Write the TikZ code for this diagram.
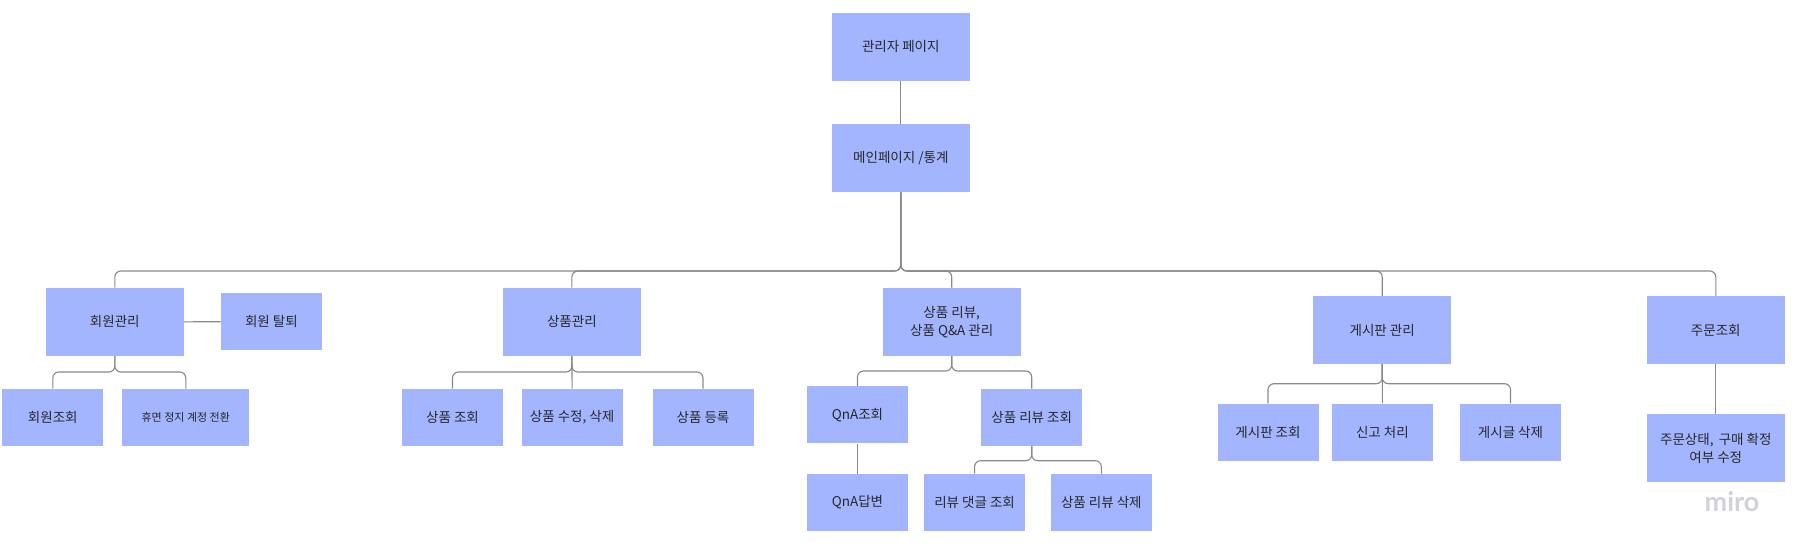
\documentclass[tikz,border=0pt]{standalone}
\usepackage{fontspec}
\usepackage{xcolor}
\usepackage{tikz}
\usetikzlibrary{positioning, calc}
\setmainfont{Noto Sans CJK KR}
\newfontfamily\mirofont{Lato}
\definecolor{boxblue}{RGB}{163,181,254}
\definecolor{linegray}{RGB}{136,136,136}
\definecolor{textgray}{RGB}{40,40,40}
\definecolor{mirogray}{RGB}{208,208,222}

\begin{document}
\begin{tikzpicture}[
    x=1bp, y=-1bp,
    link/.style={draw=linegray, line width=1.1bp, rounded corners=6bp},
    bigbox/.style={rectangle, fill=boxblue, minimum width=138bp, minimum height=68bp, inner sep=2bp, align=center, text=textgray, font=\fontsize{13.5bp}{18bp}\selectfont},
    smallbox/.style={bigbox, minimum width=101bp, minimum height=57bp}
]
    \useasboundingbox (0,0) rectangle (1804,554);
    % --- 1. Top of the tree ---
    \node (admin) [bigbox] at (900.8,46.9) {관리자 페이지};
    \node (main) [bigbox] at (900.8,158.1) {메인페이지 /통계};
    % --- 2. First level menus ---
    \node (member) [bigbox] at (114.8,321.9) {회원관리};
    \node (goods) [bigbox] at (571.9,321.9) {상품관리};
    \node (review) [bigbox] at (951.7,321.9) {상품 리뷰,\\상품 Q\&A 관리};
    \node (board) [bigbox] at (1382.2,330) {게시판 관리};
    \node (order) [bigbox] at (1715.8,330) {주문조회};
    % --- 3. Sub menus ---
    \node (withdraw) [smallbox] at (271.4,321.7) {회원 탈퇴};
    \node (memberview) [smallbox] at (52.8,417.3) {회원조회};
    \node (dormant) [smallbox, minimum width=127bp, font=\fontsize{11bp}{14bp}\selectfont] at (185.8,417.3) {휴면 정지 계정 전환};
    \node (goodsview) [smallbox] at (452.5,417.3) {상품 조회};
    \node (goodsedit) [smallbox] at (572.1,417.3) {상품 수정, 삭제};
    \node (goodsadd) [smallbox] at (703,417.3) {상품 등록};
    \node (qnaview) [smallbox] at (857.5,414.8) {QnA조회};
    \node (reviewview) [smallbox] at (1031.7,417.3) {상품 리뷰 조회};
    \node (qnaanswer) [smallbox] at (857.5,502.4) {QnA답변};
    \node (comment) [smallbox] at (974.6,502.4) {리뷰 댓글 조회};
    \node (reviewdel) [smallbox] at (1101.3,502.4) {상품 리뷰 삭제};
    \node (boardview) [smallbox] at (1268,432) {게시판 조회};
    \node (report) [smallbox] at (1382.4,432) {신고 처리};
    \node (postdel) [smallbox] at (1510.5,432) {게시글 삭제};
    \node (orderedit) [bigbox] at (1715.8,448.2) {주문상태,\, 구매 확정\\여부 수정};
    % watermark
    \node (miro) [text=mirogray, font=\mirofont\bfseries\fontsize{27bp}{27bp}\selectfont] at (1732,502) {miro};
    % --- 4. Connectors ---
    \draw[link] (admin) -- (main);
    \draw[link] (main.south) -- (main.south |- 0,271) -| (member.north);
    \draw[link] (main.south) -- (main.south |- 0,271) -| (goods.north);
    \draw[link] (main.south) -- (main.south |- 0,271) -| (review.north);
    \draw[link] (main.south) -- (main.south |- 0,271) -| (board.north);
    \draw[link] (main.south) -- (main.south |- 0,271) -| (order.north);
    % members
    \draw[link] (member) -- (withdraw);
    \draw[link] (member.south) -- (member.south |- 0,372) -| (memberview.north);
    \draw[link] (member.south) -- (member.south |- 0,372) -| (dormant.north);
    % goods
    \draw[link] (goods.south) -- (goods.south |- 0,372) -| (goodsview.north);
    \draw[link] (goods.south) -- (goodsedit.north);
    \draw[link] (goods.south) -- (goods.south |- 0,372) -| (goodsadd.north);
    % reviews and Q&A
    \draw[link] (review.south) -- (review.south |- 0,371) -| (qnaview.north);
    \draw[link] (review.south) -- (review.south |- 0,371) -| (reviewview.north);
    \draw[link] (qnaview) -- (qnaanswer);
    \draw[link] (reviewview.south) -- (reviewview.south |- 0,460.7) -| (comment.north);
    \draw[link] (reviewview.south) -- (reviewview.south |- 0,460.7) -| (reviewdel.north);
    % board
    \draw[link] (board.south) -- (board.south |- 0,383.7) -| (boardview.north);
    \draw[link] (board.south) -- (report.north);
    \draw[link] (board.south) -- (board.south |- 0,383.7) -| (postdel.north);
    % orders
    \draw[link] (order) -- (orderedit);
\end{tikzpicture}
\end{document}
